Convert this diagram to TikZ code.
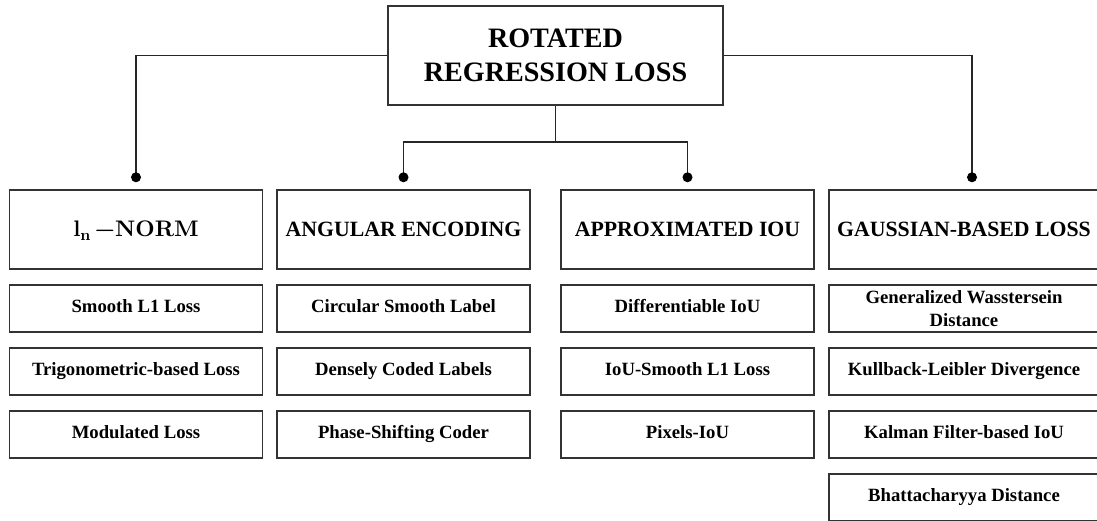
\documentclass[tikz,border=0pt]{standalone}
\usepackage{fontspec}
\setmainfont{Liberation Serif}
\newfontfamily\lmbold{lmroman10-bold.otf}
\usepackage{tikz}
\usetikzlibrary{positioning}

\begin{document}
\begin{tikzpicture}[x=0.025cm, y=-0.025cm,
  box/.style={draw=black!80, line width=1pt, align=center},
  root/.style={box, minimum width=8.375cm, minimum height=2.475cm,
               font=\fontsize{20}{24}\selectfont\bfseries},
  head/.style={box, minimum width=6.325cm, minimum height=1.975cm,
               text height=11pt, text depth=0.8pt,
               font=\fontsize{15.5}{18}\selectfont\bfseries},
  item/.style={box, minimum width=6.325cm, minimum height=1.175cm,
               text height=9pt, text depth=2.8pt,
               font=\fontsize{13.3}{16}\selectfont\bfseries},
  twoline/.style={box, minimum width=6.75cm, minimum height=1.175cm,
               font=\fontsize{13.3}{16}\selectfont\bfseries},
  wide/.style={minimum width=6.75cm},
  link/.style={black!85, line width=1pt},
  dot/.style={black, radius=0.125cm}]
\useasboundingbox (0,0) rectangle (1097,520);
\clip (0,0) rectangle (1097,520);

\node[root] (loss) at (555.5,55.5) {ROTATED\\REGRESSION LOSS};

% four families of losses
\node[head] (norm) at (136,229.5)
  {\lmbold\fontsize{16}{18}\selectfont l\textsubscript{n}\,−NORM};
\node[head] (ang)  at (403.5,229.5) {ANGULAR ENCODING};
\node[head] (iou)  at (687.5,229.5) {APPROXIMATED IOU};
\node[head, wide] (gau) at (964,229.5) {GAUSSIAN-BASED LOSS};

\node[item] (n1) at (136,308.5) {Smooth L1 Loss};
\node[item] (n2) at (136,371.5) {Trigonometric-based Loss};
\node[item] (n3) at (136,434.5) {Modulated Loss};

\node[item] (a1) at (403.5,308.5) {Circular Smooth Label};
\node[item] (a2) at (403.5,371.5) {Densely Coded Labels};
\node[item] (a3) at (403.5,434.5) {Phase-Shifting Coder};

\node[item] (i1) at (687.5,308.5) {Differentiable IoU};
\node[item] (i2) at (687.5,371.5) {IoU-Smooth L1 Loss};
\node[item] (i3) at (687.5,434.5) {Pixels-IoU};

\node[twoline] (g1) at (964,308.5) {Generalized Wasstersein\\Distance};
\node[item, wide] (g2) at (964,371.5) {Kullback-Leibler Divergence};
\node[item, wide] (g3) at (964,434.5) {Kalman Filter-based IoU};
\node[item, wide] (g4) at (964,497.5) {Bhattacharyya Distance};

% tree connectors
\coordinate[above=0.3cm of norm] (dn);
\coordinate[above=0.3cm of ang] (da);
\coordinate[above=0.3cm of iou] (di);
\coordinate[above=0.3cm of gau, xshift=0.2cm] (dg);
\coordinate (fork) at (555.5,142);

\draw[link] (loss.west) -| (dn);
\draw[link] (loss.east) -| (dg);
\draw[link] (loss.south) -- (fork);
\draw[link] (da) |- (fork) -| (di);
\foreach \d in {dn,da,di,dg} \fill[dot] (\d) circle;
\end{tikzpicture}
\end{document}
